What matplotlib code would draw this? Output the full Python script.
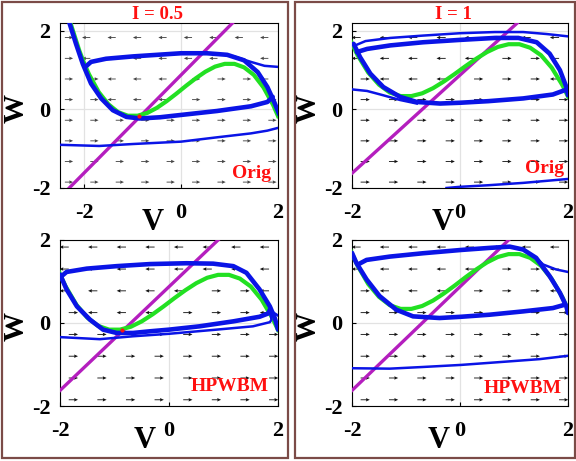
import matplotlib
matplotlib.use('Agg')
import matplotlib.pyplot as plt
from matplotlib.patches import Rectangle

plt.rcParams['font.family'] = 'Liberation Serif'
plt.rcParams['font.weight'] = 'bold'
plt.rcParams['axes.unicode_minus'] = False

# --- nullcline cubic (green) ---
nc_v = [-2.3, -2.1, -2.0, -1.9, -1.7, -1.5, -1.3, -1.1, -0.9, -0.7, -0.5, -0.3,
        -0.1, 0.1, 0.3, 0.5, 0.7, 0.9, 1.1, 1.3, 1.5, 1.7, 1.9, 2.0]
nc_w_05 = [2.26, 1.49, 1.17, 0.89, 0.44, 0.13, -0.07, -0.16, -0.16, -0.09, 0.04, 0.21,
           0.40, 0.60, 0.79, 0.96, 1.09, 1.16, 1.16, 1.07, 0.88, 0.56, 0.11, -0.17]
nc_w_1 = [2.76, 1.99, 1.67, 1.39, 0.94, 0.63, 0.43, 0.34, 0.34, 0.41, 0.54, 0.71,
          0.90, 1.10, 1.29, 1.46, 1.59, 1.66, 1.66, 1.57, 1.38, 1.06, 0.61, 0.33]

# linear nullcline (magenta) end points
lin_tl = [(-2.31, -2.0), (1.06, 2.2)]
lin_tr = [(-2.0, -1.625), (1.06, 2.2)]
lin_b = [(-2.0, -1.625), (0.9, 2.0)]

# equilibrium dots
eq_tl = (-0.87, -0.17)
eq_bl = (-0.87, -0.17)

# --- trajectories (blue) ---
tl_thick = [
    [(-2.31, 2.22), (-2.17, 1.67), (-2.03, 1.16), (-1.86, 0.66), (-1.65, 0.28), (-1.41, -0.02),
     (-1.13, -0.19), (-0.85, -0.23), (-0.44, -0.2), (0.0, -0.14), (0.74, -0.04), (1.44, 0.08),
     (1.78, 0.19), (1.89, 0.32)],
    [(-1.98, 1.08), (-1.86, 1.21), (-1.55, 1.29), (-0.99, 1.35), (0.0, 1.43), (0.53, 1.43),
     (0.95, 1.39), (1.30, 1.25), (1.58, 0.95), (1.78, 0.57), (1.92, 0.19), (2.03, -0.14)],
]
tl_thin = [
    [(1.09, 1.35), (1.44, 1.21), (1.72, 1.11), (2.03, 1.08)],
    [(-2.52, -0.9), (-1.69, -0.93), (-0.99, -0.88), (0.0, -0.82), (0.74, -0.71), (1.44, -0.61),
     (1.78, -0.54), (2.03, -0.46)],
]
tr_thick = [
    [(-1.97, 1.67), (-1.85, 1.33), (-1.66, 0.91), (-1.42, 0.57), (-1.11, 0.32), (-0.8, 0.19),
     (-0.37, 0.15), (0.0, 0.17), (0.52, 0.21), (1.17, 0.28), (1.72, 0.38), (1.94, 0.49)],
    [(-1.91, 1.46), (-1.72, 1.54), (-1.29, 1.63), (-0.68, 1.71), (0.0, 1.77), (0.65, 1.82),
     (1.08, 1.82), (1.42, 1.71), (1.66, 1.42), (1.85, 1.0), (1.97, 0.57), (2.0, 0.36)],
]
tr_thin = [
    [(-1.94, 1.63), (-1.75, 1.74), (-1.29, 1.82), (-0.68, 1.88), (0.0, 1.94), (0.65, 1.97),
     (1.17, 1.97), (1.6, 1.92), (2.0, 1.86)],
    [(-2.0, 0.51), (-1.72, 0.47), (-1.42, 0.36), (-1.11, 0.24), (-0.8, 0.15)],
    [(-0.25, -2.0), (0.0, -1.97), (0.52, -1.93), (1.17, -1.87), (2.0, -1.77)],
]
bl_thick = [
    [(-2.0, 1.17), (-1.88, 0.81), (-1.69, 0.40), (-1.45, 0.08), (-1.21, -0.16), (-0.96, -0.24),
     (-0.66, -0.24), (-0.35, -0.2), (0.0, -0.16), (0.56, -0.08), (1.18, 0.04), (1.66, 0.15),
     (1.82, 0.23), (1.85, 0.32)],
    [(-1.97, 1.13), (-1.88, 1.23), (-1.51, 1.31), (-0.96, 1.37), (-0.35, 1.42), (0.32, 1.44),
     (0.81, 1.43), (1.18, 1.37), (1.42, 1.21), (1.66, 0.81), (1.85, 0.40), (1.94, 0.12),
     (2.0, -0.16)],
]
bl_thin = [
    [(-2.0, -0.34), (-1.27, -0.39), (-0.66, -0.32), (0.0, -0.26), (0.87, -0.16), (1.54, -0.08),
     (1.85, 0.02), (1.88, 0.08), (1.86, 0.24)],
    [(1.88, 0.28), (2.0, 0.18)],
]
br_thick = [
    [(-2.0, 1.69), (-1.92, 1.45), (-1.73, 1.05), (-1.49, 0.65), (-1.18, 0.32), (-0.87, 0.16),
     (-0.38, 0.12), (0.02, 0.15), (0.55, 0.2), (1.17, 0.28), (1.72, 0.36), (1.94, 0.44)],
    [(-1.89, 1.41), (-1.73, 1.52), (-1.3, 1.6), (-0.69, 1.68), (0.02, 1.76), (0.55, 1.81),
     (0.92, 1.84), (1.17, 1.77), (1.41, 1.57), (1.66, 1.13), (1.85, 0.73), (1.97, 0.40),
     (2.0, 0.24)],
]
br_thin = [
    [(1.41, 1.57), (1.54, 1.41), (1.78, 1.29), (2.0, 1.23)],
    [(-2.0, -1.09), (-1.3, -1.1), (-0.69, -1.06), (0.02, -1.01), (0.86, -0.93), (1.48, -0.87),
     (2.0, -0.79)],
]

# --- direction field grid and arrow directions (L = left, R = right) ---
qv_wide = [-2.4, -1.875, -1.35, -0.825, -0.3, 0.225, 0.75, 1.275, 1.8]
qv = [-1.84, -1.315, -0.79, -0.265, 0.26, 0.785, 1.31, 1.835]
qw = [1.83, 1.3, 0.775, 0.25, -0.275, -0.8, -1.325, -1.85]
dir_tl = ["RLLLLLLLL", "RLLLLLLLL", "RRLLLRRRL", "RRLLLRRRR",
          "RRRRRRRRR", "RRRRRRRRR", "RRRRRRRRR", "RRRRRRRRR"]
dir_tr = ["LLLLLLLL", "LLLLLRRL", "RLLLRRRL", "RRRRRRRR",
          "RRRRRRRR", "RRRRRRRR", "RRRRRRRR", "RRRRRRRR"]
dir_bl = ["LLLLLLLL", "LLLLLLLL", "LLLLLRRL", "RLLLRRRL",
          "RRRRRRRR", "RRRRRRRR", "RRRRRRRR", "RRRRRRRR"]
dir_br = dir_tr
arrow_len = 0.17

BLUE = '#0a14e6'
GREEN = '#22e022'
MAGENTA = '#b41ebe'
RED = '#ff1010'

fig = plt.figure(figsize=(5.76, 4.61), dpi=100)

panels = [
    # rect, xlim, ylim, cubic, line, thick, thin, grid v, dirs, eq, tag, arrow colour
    ([0.1042, 0.5922, 0.3785, 0.3579], (-2.5, 2), (-2, 2.2), nc_w_05, lin_tl, tl_thick, tl_thin,
     qv_wide, dir_tl, eq_tl, ('Orig', 0.88, 0.09), '#444444'),
    ([0.6111, 0.5922, 0.375, 0.3579], (-2, 2), (-2, 2.2), nc_w_1, lin_tr, tr_thick, tr_thin,
     qv, dir_tr, None, ('Orig', 0.89, 0.12), '#111111'),
    ([0.1042, 0.1193, 0.3785, 0.3601], (-2, 2), (-2, 2), nc_w_05, lin_b, bl_thick, bl_thin,
     qv, dir_bl, eq_bl, ('HPWBM', 0.78, 0.115), '#111111'),
    ([0.6111, 0.1193, 0.375, 0.3601], (-2, 2), (-2, 2), nc_w_1, lin_b, br_thick, br_thin,
     qv, dir_br, None, ('HPWBM', 0.79, 0.108), '#111111'),
]

xlab_x = [0.427, 0.42, 0.39, 0.40]
ylab_x = [-0.2, -0.205, -0.2, -0.205]

for i, (rect, xl, yl, cub, lin, thick, thin, gv, dirs, eq, tag, acol) in enumerate(panels):
    ax = fig.add_axes(rect)
    ax.set_xlim(*xl)
    ax.set_ylim(*yl)
    ax.grid(True, color='#e2e2e2', linewidth=0.9)
    ax.set_axisbelow(True)

    # direction field
    X, Y, U, V = [], [], [], []
    for r, row in enumerate(dirs):
        for c, ch in enumerate(row):
            X.append(gv[c])
            Y.append(qw[r])
            U.append(arrow_len if ch == 'R' else -arrow_len)
            V.append(0.0)
    ax.quiver(X, Y, U, V, angles='xy', scale_units='xy', scale=1, pivot='tail',
              color=acol, width=0.004, headwidth=4, headlength=4.5, headaxislength=4,
              zorder=2)

    ax.plot([p[0] for p in lin], [p[1] for p in lin], color=MAGENTA, lw=2.4, zorder=3)
    ax.plot(nc_v, cub, color=GREEN, lw=3.0, zorder=4)
    for path in thin:
        ax.plot([p[0] for p in path], [p[1] for p in path], color=BLUE, lw=1.8, zorder=5)
    for path in thick:
        ax.plot([p[0] for p in path], [p[1] for p in path], color=BLUE, lw=3.3, zorder=6,
                solid_capstyle='round', solid_joinstyle='round')
    if eq is not None:
        ax.plot(eq[0], eq[1], 'o', color=RED, ms=2, zorder=7)

    ax.set_xticks([-2, 0, 2])
    ax.set_yticks([-2, 0, 2])
    ax.tick_params(direction='in', length=3, width=0.8, labelsize=16)
    ax.tick_params(axis='x', pad=11)
    ax.tick_params(axis='y', pad=7)
    for s in ax.spines.values():
        s.set_linewidth(0.8)

    ax.set_xlabel('V', fontsize=22, fontweight='bold')
    ax.xaxis.set_label_coords(xlab_x[i], -0.12)
    ax.text(ylab_x[i], 0.48, 'W', transform=ax.transAxes, rotation=90, fontsize=21,
            fontweight='bold', ha='center', va='center')

    ax.text(tag[1], tag[2], tag[0], transform=ax.transAxes, color=RED, fontsize=14,
            fontweight='bold', ha='center', va='center', zorder=8)

fig.text(0.2726, 0.968, 'I = 0.5', color=RED, fontsize=13.5, fontweight='bold',
         ha='center', va='center')
fig.text(0.7865, 0.968, 'I = 1', color=RED, fontsize=13.5, fontweight='bold',
         ha='center', va='center')

# brown frames round each column
for x0, w in [(0.0035, 0.4965), (0.5122, 0.486)]:
    fig.patches.append(Rectangle((x0, 0.0065), w, 0.989, transform=fig.transFigure,
                                 fill=False, edgecolor='#7b4b47', linewidth=1.6))

fig.savefig('out.png', dpi=100)
